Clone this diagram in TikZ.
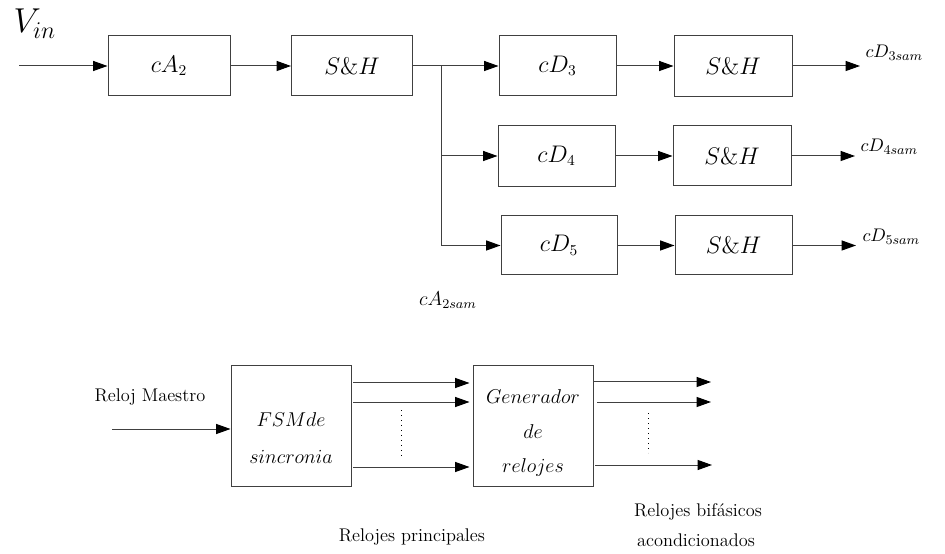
\documentclass[tikz,border=0pt]{standalone}
\usetikzlibrary{arrows.meta}
\begin{document}
\begin{tikzpicture}[x=0.6pt,y=-0.6pt,
  line width=0.6pt, draw=black!75,
  font=\fontsize{11}{13.5}\selectfont,
  blk/.style={draw=black!75, line width=0.6pt, inner sep=0pt, font=\fontsize{13.5}{16}\selectfont},
  arr/.style={-{Triangle[length=8.6pt,width=6pt,color=black,fill=black]}},
  lbl/.style={inner sep=0pt},
  dots/.style={dash pattern=on 0.6pt off 2.4pt, line width=0.6pt, draw=black}]
\useasboundingbox (0,0) rectangle (945,554);

% --- top chain: approximation and detail branches ---
\node[lbl, font=\huge, anchor=base west] (vin) at (13,33) {$V_{in}$};
\coordinate (in) at (19,66);
\node[blk, minimum width=122*0.6pt, minimum height=60*0.6pt] (cA2) at (169,66) {$cA_2$};
\node[blk, minimum width=121*0.6pt, minimum height=60*0.6pt] (sh1) at (352,66) {$S\&H$};

\node[blk, minimum width=117*0.6pt, minimum height=60*0.6pt] (cD3) at (557.5,66) {$cD_3$};
\node[blk, minimum width=118*0.6pt, minimum height=61*0.6pt] (sh3) at (733,66) {$S\&H$};
\node[blk, minimum width=117*0.6pt, minimum height=61*0.6pt] (cD4) at (556.5,156) {$cD_4$};
\node[blk, minimum width=118*0.6pt, minimum height=60*0.6pt] (sh4) at (732,156) {$S\&H$};
\node[blk, minimum width=116*0.6pt, minimum height=59*0.6pt] (cD5) at (559,245.5) {$cD_5$};
\node[blk, minimum width=117*0.6pt, minimum height=59*0.6pt] (sh5) at (733.5,245.5) {$S\&H$};

\coordinate (br) at (441,66);
\coordinate (o3) at (860,66);
\coordinate (o4) at (855,156);
\coordinate (o5) at (856,245.5);

\draw[arr] (in) -- (cA2);
\draw[arr] (cA2) -- (sh1);
\draw[arr] (sh1) -- (cD3);
\draw[arr] (br) |- (cD4.west);
\draw[arr] (br) |- (cD5.west);
\draw[arr] (cD3) -- (sh3);
\draw[arr] (cD4) -- (sh4);
\draw[arr] (cD5) -- (sh5);
\draw[arr] (sh3) -- (o3);
\draw[arr] (sh4) -- (o4);
\draw[arr] (sh5) -- (o5);

\node[lbl, anchor=west] (l3) at (865,53) {$cD_{3sam}$};
\node[lbl, anchor=west] (l4) at (860,147) {$cD_{4sam}$};
\node[lbl, anchor=west] (l5) at (862,237) {$cD_{5sam}$};
\node[lbl, font=\large] (lA) at (448,300) {$cA_{2sam}$};

% --- bottom: clock generation ---
\node[lbl] (rm) at (150,397) {Reloj Maestro};
\coordinate (rmin) at (112,429);
\node[blk, minimum width=120*0.6pt, minimum height=120*0.6pt] (fsm) at (291,426) {};
\node[lbl, font=\fontsize{13}{15}\selectfont, align=center] (fsmtxt) at (291,438) {$FSM de$\\[7pt]$sincronia$};
\node[blk, minimum width=120*0.6pt, minimum height=120*0.6pt] (gen) at (533,426) {};
\node[lbl, font=\fontsize{13}{15}\selectfont, align=center] (gentxt) at (533,433) {$Generador$\\[5.5pt]$de$\\[5.5pt]$relojes$};

\draw[arr] (rmin) -- (rmin -| fsm.west);

\coordinate (a1) at (353,383);
\coordinate (a2) at (353,402);
\coordinate (a3) at (353,467);
\draw[arr] (a1) -- ([xshift=-1.8pt]a1 -| gen.west);
\draw[arr] (a2) -- ([xshift=-1.8pt]a2 -| gen.west);
\draw[arr] (a3) -- ([xshift=-1.8pt]a3 -| gen.west);
\draw[dots] (401,410) -- (401,458);

\coordinate (b1) at (593,382);
\coordinate (b2) at (597,402);
\coordinate (b3) at (595,465);
\coordinate (e1) at (711,382);
\coordinate (e2) at (711,402);
\coordinate (e3) at (712,465);
\draw[arr] (b1) -- (e1);
\draw[arr] (b2) -- (e2);
\draw[arr] (b3) -- (e3);
\draw[dots] (648,413) -- (648,453);

\node[lbl] (rp) at (412,537) {Relojes principales};
\node[lbl] (rb) at (698,512) {Relojes bifásicos};
\node[lbl] (ac) at (696,540) {acondicionados};
\end{tikzpicture}
\end{document}
